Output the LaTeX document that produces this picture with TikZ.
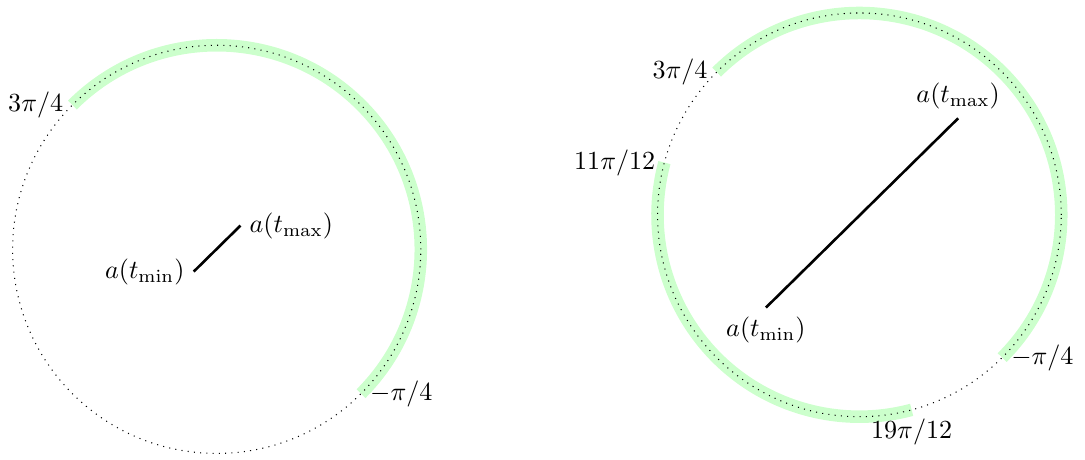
\documentclass[tikz,border=0pt]{standalone}
\usetikzlibrary{positioning}
\begin{document}
\begin{tikzpicture}[arcband/.style={green!20,line width=4.8pt},
  seg/.style={line width=1pt}]
\useasboundingbox (-2.92,-2.83) rectangle (11.70,3.36);
% left circle
\draw[arcband] (-45:2.75) arc (-45:135:2.75);
\draw[dotted] (0,0) circle (2.75);
\coordinate (lstart) at (135:2.75);
\coordinate (lend) at (-45:2.75);
\node[left] (lstartlabel) at (lstart) {$3\pi/4$};
\node[right] (lendlabel) at (lend) {$-\pi/4$};
\coordinate (lmin) at (-0.31,-0.3);
\coordinate (lmax) at (0.32,0.32);
\draw[seg] (lmin) -- (lmax);
\node[left] (lminlabel) at (lmin) {$a(t_{\min})$};
\node[right] (lmaxlabel) at (lmax) {$a(t_{\max})$};
% right circle
\begin{scope}[shift={(8.66,0.465)}]
\draw[arcband] (-45:2.72) arc (-45:135:2.72);
\draw[arcband] (165:2.72) arc (165:285:2.72);
\draw[dotted] (0,0) circle (2.72);
\coordinate (rstart) at (135:2.72);
\coordinate (rend) at (-45:2.72);
\coordinate (rstarttwo) at (165:2.72);
\coordinate (rendtwo) at (285:2.72);
\node[left] (rstartlabel) at (rstart) {$3\pi/4$};
\node[right] (rendlabel) at (rend) {$-\pi/4$};
\node[left] (rstarttwolabel) at (rstarttwo) {$11\pi/12$};
\node[below] (rendtwolabel) at (rendtwo) {$19\pi/12$};
\coordinate (rmin) at (-1.26,-1.25);
\coordinate (rmax) at (1.33,1.30);
\draw[seg] (rmin) -- (rmax);
\node[below] (rminlabel) at (rmin) {$a(t_{\min})$};
\node[above] (rmaxlabel) at (rmax) {$a(t_{\max})$};
\end{scope}
\end{tikzpicture}
\end{document}
